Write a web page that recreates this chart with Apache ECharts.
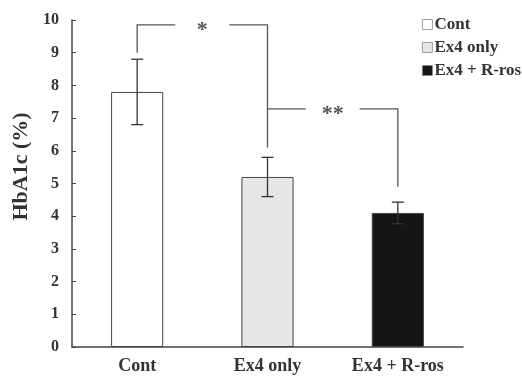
<!DOCTYPE html>
<html>
<head>
<meta charset="utf-8">
<script src="https://cdn.jsdelivr.net/npm/echarts@6/dist/echarts.min.js"></script>
<style>html,body{margin:0;padding:0;background:#fff;}#c{width:522px;height:376px;}</style>
</head>
<body>
<div id="c"></div>
<script>
var categories = ['Cont', 'Ex4 only', 'Ex4 + R-ros'];
var means = [7.8, 5.2, 4.1];
var errors = [1.0, 0.6, 0.33];
var yTicks = [0, 1, 2, 3, 4, 5, 6, 7, 8, 9, 10];
// brackets: [leftCat, leftLow, top, rightCat, rightLow, label]
var brackets = [
  [0, 9.0, 9.85, 1, 6.1, '*'],
  [1, 7.28, 7.28, 2, 4.9, '**']
];
var fills = ['#ffffff', '#e6e6e6', '#151515'];

var font = 'Liberation Serif';
var chart = echarts.init(document.getElementById('c'));

var barSeries = categories.map(function (name, i) {
  return {
    name: name,
    type: 'bar',
    barWidth: '40%',
    barGap: '-100%',
    data: categories.map(function (c, j) { return j === i ? means[i] : null; }),
    itemStyle: { color: fills[i], borderColor: '#444', borderWidth: 1 },
    z: 2
  };
});

var errData = means.map(function (m, i) { return [i, m - errors[i], m + errors[i]]; });

var option = {
  animation: false,
  backgroundColor: '#fff',
  grid: { left: 72, right: 59, top: 20, bottom: 29 },
  legend: {
    orient: 'vertical',
    left: 417,
    top: 11,
    icon: 'rect',
    itemWidth: 10,
    itemHeight: 10,
    itemGap: 6,
    data: categories,
    itemStyle: { borderWidth: 0.8, borderColor: '#888' },
    textStyle: { fontFamily: font, fontWeight: 'bold', fontSize: 17, lineHeight: 17, color: '#333', padding: [0, 0, 0, -3] }
  },
  xAxis: {
    type: 'category',
    data: categories,
    axisLine: { lineStyle: { color: '#444', width: 1.5 } },
    axisTick: { inside: true, length: 5, lineStyle: { color: '#444' } },
    axisLabel: { fontFamily: font, fontWeight: 'bold', fontSize: 18, color: '#333', margin: 10 }
  },
  yAxis: {
    type: 'value',
    min: 0, max: 10, interval: 1,
    name: 'HbA1c (%)',
    nameLocation: 'middle',
    nameGap: 39,
    nameTextStyle: { fontFamily: font, fontWeight: 'bold', fontSize: 22, color: '#333', padding: [0, 0, 0, 34] },
    axisLine: { show: true, lineStyle: { color: '#444', width: 1.5 } },
    axisTick: { show: true, inside: true, length: 4, lineStyle: { color: '#444' } },
    splitLine: { show: false },
    axisLabel: {
      fontFamily: font, fontWeight: 'bold', fontSize: 16, color: '#333', margin: 13,
      formatter: function (v) { return yTicks.indexOf(v) >= 0 ? String(v) : ''; }
    }
  },
  series: barSeries.concat([
    {
      type: 'custom',
      name: 'err',
      data: errData,
      z: 5,
      renderItem: function (params, api) {
        var x = api.value(0);
        var lo = api.coord([x, api.value(1)]);
        var hi = api.coord([x, api.value(2)]);
        var hw = 6;
        var st = { stroke: '#333', lineWidth: 1.3 };
        return {
          type: 'group',
          children: [
            { type: 'line', shape: { x1: lo[0], y1: lo[1], x2: hi[0], y2: hi[1] }, style: st },
            { type: 'line', shape: { x1: hi[0] - hw, y1: hi[1], x2: hi[0] + hw, y2: hi[1] }, style: st },
            { type: 'line', shape: { x1: lo[0] - hw, y1: lo[1], x2: lo[0] + hw, y2: lo[1] }, style: st }
          ]
        };
      }
    },
    {
      type: 'custom',
      name: 'sig',
      data: brackets,
      z: 6,
      renderItem: function (params, api) {
        var a = api.coord([api.value(0), api.value(1)]);
        var t = api.coord([api.value(0), api.value(2)]);
        var b = api.coord([api.value(3), api.value(2)]);
        var c = api.coord([api.value(3), api.value(4)]);
        var label = brackets[params.dataIndex][5];
        var mid = (t[0] + b[0]) / 2;
        var gap = 27;
        var st = { stroke: '#555', lineWidth: 1.3, fill: null };
        return {
          type: 'group',
          children: [
            { type: 'polyline', shape: { points: [a, t, [mid - gap, t[1]]] }, style: st },
            { type: 'polyline', shape: { points: [[mid + gap, b[1]], b, c] }, style: st },
            { type: 'text', x: mid, y: t[1] + 5, style: { text: label, fontFamily: font, fontWeight: 'bold', fontSize: 22, fill: '#555', align: 'center', verticalAlign: 'middle' } }
          ]
        };
      }
    }
  ])
};
chart.setOption(option);
</script>
</body>
</html>
